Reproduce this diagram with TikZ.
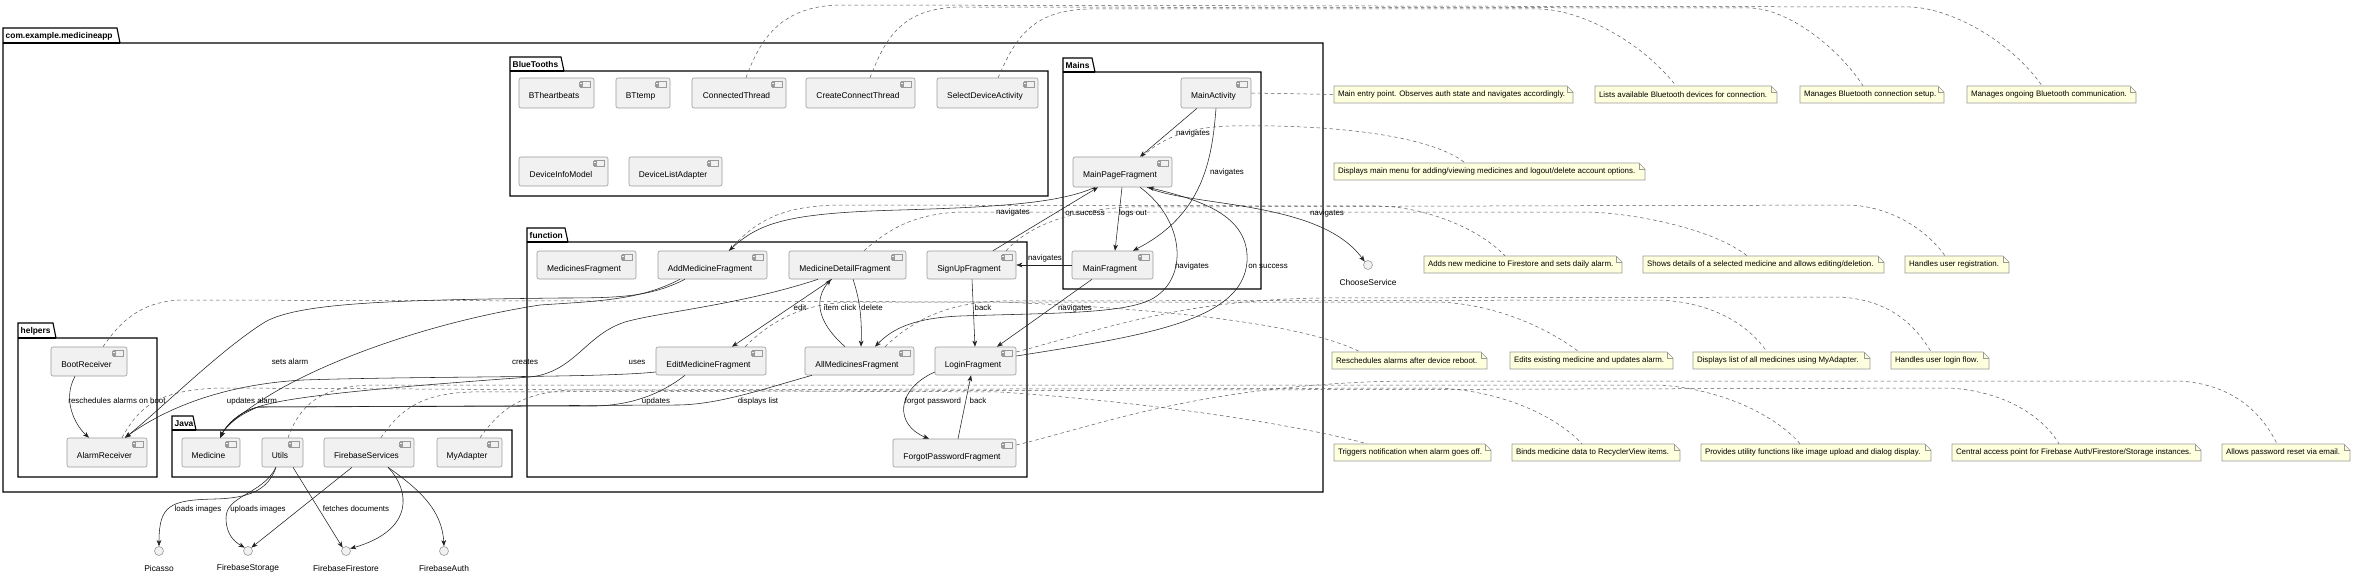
\documentclass[tikz,border=0pt]{standalone}
\usepackage{fontspec}
\setmainfont{Liberation Sans}
\usetikzlibrary{arrows.meta}
\definecolor{compfill}{HTML}{F1F1F1}
\definecolor{compdraw}{HTML}{9A9A9A}
\definecolor{notefill}{HTML}{FEFFDD}
\definecolor{linec}{HTML}{222222}
\tikzset{
 compbox/.style={draw=compdraw, fill=compfill, line width=0.6pt, rounded corners=2pt, inner sep=0pt, font=\fontsize{8.4}{10}\selectfont, text height=12pt, text depth=0pt},
 compicon/.style={draw=compdraw, fill=compfill, line width=0.45pt},
 notebox/.style={inner sep=0pt, font=\fontsize{7.9}{9}\selectfont},
 noteshape/.style={draw=compdraw, fill=notefill, line width=0.6pt},
 pkg/.style={draw=black, line width=1.1pt, line join=miter},
 pkgtitle/.style={inner sep=0pt, font=\bfseries\fontsize{8.4}{10}\selectfont},
 iface/.style={circle, draw=compdraw, fill=compfill, line width=0.6pt, minimum size=9pt, inner sep=0pt},
 ifacelbl/.style={inner sep=0pt, font=\fontsize{8.4}{10}\selectfont},
 lbl/.style={inner sep=0pt, font=\fontsize{7.9}{9}\selectfont},
 arr/.style={draw=linec, line width=0.55pt, -{Stealth[length=6pt,width=4.6pt,inset=1.6pt]}},
 dsh/.style={draw=linec!75, line width=0.5pt, dash pattern=on 3.5pt off 3pt},
}
\newcommand\mkcomp[6]{%
 \pgfmathsetmacro\pcw{#4-#2}\pgfmathsetmacro\pch{#5-#3}%
 \node[compbox, minimum width=\pcw pt, minimum height=\pch pt] (#1) at ({(#2+#4)/2},{(#3+#5)/2}) {#6\hspace*{5pt}};
 \draw[compicon] ([xshift=-14pt,yshift=-4pt]#1.north east) rectangle ++(10pt,-6pt);
 \draw[compicon] ([xshift=-15.5pt,yshift=-5pt]#1.north east) rectangle ++(3pt,-1.4pt);
 \draw[compicon] ([xshift=-15.5pt,yshift=-7.6pt]#1.north east) rectangle ++(3pt,-1.4pt);
}
\newcommand\mknote[6]{%
 \pgfmathsetmacro\pnw{#4-#2}\pgfmathsetmacro\pnh{#5-#3}\pgfmathsetmacro\pnfx{#4-6}\pgfmathsetmacro\pnfy{#3+6}\pgfmathsetmacro\pntw{#4-#2-8}%
 \filldraw[noteshape] (#2,#3) -- (\pnfx,#3) -- (#4,\pnfy) -- (#4,#5) -- (#2,#5) -- cycle;
 \draw[noteshape, fill=none] (\pnfx,#3) -- (\pnfx,\pnfy) -- (#4,\pnfy);
 \node[notebox, minimum width=\pnw pt, minimum height=\pnh pt] (#1) at ({(#2+#4)/2},{(#3+#5)/2}) {\makebox[\pntw pt][l]{#6}};
}
\newcommand\mkpkg[8]{%
 \draw[pkg] (#2,#4) -- (#2,#3) -- ({#7-3},#3) -- (#7,#4) -- (#5,#4) -- (#5,#6) -- (#2,#6) -- cycle;
 \draw[pkg] (#2,#4) -- (#7,#4);
 \node[pkgtitle, anchor=west] (#1) at ({#2+2.5},{(#3+#4)/2+0.5}) {#8};
}
\newcommand\mkiface[4]{%
 \node[iface] (#1) at (#2,#3) {};
 \node[ifacelbl] (#1-lbl) at (#2,{#3+17}) {#4};
}
\begin{document}
\begin{tikzpicture}[x=1pt,y=-1pt]
\fill[white] (0,0) rectangle (2353,575);
\useasboundingbox (0,0) rectangle (2353,575);
% packages
\mkpkg{pOuter}{3}{28}{43}{1323}{492}{120}{com.example.medicineapp}
\mkpkg{pBT}{510}{57}{71}{1048}{196}{564}{BlueTooths}
\mkpkg{pMains}{1063}{58}{72}{1261}{289}{1095}{Mains}
\mkpkg{pFunc}{527}{228}{242}{1027}{477}{568}{function}
\mkpkg{pHelpers}{18}{323}{338}{157}{477}{56}{helpers}
\mkpkg{pJava}{172}{416}{430}{512}{477}{196}{Java}
% components
\mkcomp{BTheartbeats}{519}{78}{594}{108}{BTheartbeats}
\mkcomp{BTtemp}{616}{78}{670}{108}{BTtemp}
\mkcomp{ConnectedThread}{692}{78}{786}{108}{ConnectedThread}
\mkcomp{CreateConnectThread}{806}{78}{915}{108}{CreateConnectThread}
\mkcomp{SelectDeviceActivity}{937}{78}{1038}{108}{SelectDeviceActivity}
\mkcomp{DeviceInfoModel}{519}{157}{608}{186}{DeviceInfoModel}
\mkcomp{DeviceListAdapter}{629}{157}{722}{186}{DeviceListAdapter}
\mkcomp{MainActivity}{1181}{78}{1251}{108}{MainActivity}
\mkcomp{MainPageFragment}{1073}{157}{1172}{187}{MainPageFragment}
\mkcomp{MainFragment}{1072}{251}{1153}{279}{MainFragment}
\mkcomp{MedicinesFragment}{537}{251}{636}{279}{MedicinesFragment}
\mkcomp{AddMedicineFragment}{658}{251}{767}{279}{AddMedicineFragment}
\mkcomp{MedicineDetailFragment}{789}{251}{906}{279}{MedicineDetailFragment}
\mkcomp{SignUpFragment}{927}{251}{1016}{279}{SignUpFragment}
\mkcomp{EditMedicineFragment}{656}{347}{766}{375}{EditMedicineFragment}
\mkcomp{AllMedicinesFragment}{805}{347}{914}{375}{AllMedicinesFragment}
\mkcomp{LoginFragment}{935}{347}{1016}{375}{LoginFragment}
\mkcomp{ForgotPasswordFragment}{893}{439}{1016}{467}{ForgotPasswordFragment}
\mkcomp{BootReceiver}{51}{347}{127}{376}{BootReceiver}
\mkcomp{AlarmReceiver}{67}{438}{147}{467}{AlarmReceiver}
\mkcomp{Medicine}{182}{438}{240}{467}{Medicine}
\mkcomp{Utils}{262}{438}{303}{467}{Utils}
\mkcomp{FirebaseServices}{324}{438}{414}{467}{FirebaseServices}
\mkcomp{MyAdapter}{437}{438}{502}{467}{MyAdapter}
% interfaces
\mkiface{ChooseService}{1368}{265}{ChooseService}
\mkiface{Picasso}{159}{551}{Picasso}
\mkiface{FirebaseStorage}{248}{551}{FirebaseStorage}
\mkiface{FirebaseFirestore}{346}{551}{FirebaseFirestore}
\mkiface{FirebaseAuth}{444}{551}{FirebaseAuth}
% notes
\mknote{N1}{1334}{86}{1573}{103}{Main entry point. Observes auth state and navigates accordingly.}
\mknote{N2}{1595}{86}{1777}{103}{Lists available Bluetooth devices for connection.}
\mknote{N3}{1800}{86}{1944}{103}{Manages Bluetooth connection setup.}
\mknote{N4}{1967}{86}{2136}{103}{Manages ongoing Bluetooth communication.}
\mknote{N5}{1334}{163}{1645}{180}{Displays main menu for adding/viewing medicines and logout/delete account options.}
\mknote{N6}{1424}{256}{1622}{273}{Adds new medicine to Firestore and sets daily alarm.}
\mknote{N7}{1643}{256}{1884}{273}{Shows details of a selected medicine and allows editing/deletion.}
\mknote{N8}{1905}{256}{2009}{273}{Handles user registration.}
\mknote{N9}{1332}{352}{1487}{369}{Reschedules alarms after device reboot.}
\mknote{N10}{1510}{352}{1673}{369}{Edits existing medicine and updates alarm.}
\mknote{N11}{1693}{352}{1870}{369}{Displays list of all medicines using MyAdapter.}
\mknote{N12}{1891}{352}{1989}{369}{Handles user login flow.}
\mknote{N13}{1334}{444}{1491}{461}{Triggers notification when alarm goes off.}
\mknote{N14}{1512}{444}{1680}{461}{Binds medicine data to RecyclerView items.}
\mknote{N15}{1701}{444}{1931}{461}{Provides utility functions like image upload and dialog display.}
\mknote{N16}{1952}{444}{2201}{461}{Central access point for Firebase Auth/Firestore/Storage instances.}
\mknote{N17}{2222}{444}{2350}{461}{Allows password reset via email.}
% dashed note links
\draw[dsh] (MainActivity.east) -- (N1.west);
\draw[dsh] ([xshift=10.5pt]SelectDeviceActivity.north) .. controls (1015,40) and (1030,10) .. (1090,9) -- (1540,9) .. controls (1580,10) and (1640,40) .. ([xshift=-10pt]N2.north);
\draw[dsh] ([xshift=9.5pt]CreateConnectThread.north) .. controls (885,40) and (900,8) .. (960,7) -- (1750,8) .. controls (1790,9) and (1840,50) .. ([xshift=-9pt]N3.north);
\draw[dsh] ([xshift=7pt]ConnectedThread.north) .. controls (760,40) and (780,6) .. (840,5) -- (1910,7) .. controls (1950,8) and (2010,40) .. ([xshift=-9.5pt]N4.north);
\draw[dsh] ([xshift=19.5pt]MainPageFragment.north) .. controls (1165,135) and (1195,127) .. (1230,126) .. controls (1330,124) and (1430,135) .. ([xshift=-24.5pt]N5.north);
\draw[dsh] ([xshift=16.5pt]AddMedicineFragment.north) .. controls (760,215) and (790,206) .. (840,205) -- (1380,206) .. controls (1420,207) and (1475,225) .. ([xshift=-18pt]N6.north);
\draw[dsh] ([xshift=16.5pt]MedicineDetailFragment.north) .. controls (890,228) and (915,214) .. (960,212) -- (1590,212) .. controls (1640,214) and (1715,230) .. ([xshift=-16.5pt]N7.north);
\draw[dsh] ([xshift=34.5pt]SignUpFragment.north) .. controls (1030,225) and (1070,210) .. (1130,207) -- (1850,205) .. controls (1890,207) and (1925,228) .. ([xshift=-12pt]N8.north);
\draw[dsh] ([xshift=14pt]BootReceiver.north) .. controls (120,322) and (140,302) .. (180,300) -- (1000,302) .. controls (1150,308) and (1300,322) .. ([xshift=-49.5pt]N9.north);
\draw[dsh] ([xshift=34pt]EditMedicineFragment.north) .. controls (770,322) and (800,304) .. (850,302) -- (1440,302) .. controls (1500,305) and (1550,330) .. ([xshift=-12.5pt]N10.north);
\draw[dsh] ([xshift=25.5pt]AllMedicinesFragment.north) .. controls (915,318) and (950,303) .. (1000,301) -- (1660,300) .. controls (1720,303) and (1752,330) .. ([xshift=-14.5pt]N11.north);
\draw[dsh] ([yshift=9pt]LoginFragment.east) .. controls (1100,330) and (1180,300) .. (1320,298) -- (1840,297) .. controls (1890,300) and (1915,325) .. ([xshift=-9pt]N12.north);
\draw[dsh] ([xshift=15pt]AlarmReceiver.north) .. controls (140,405) and (160,390) .. (220,388) -- (1000,392) .. controls (1150,402) and (1300,425) .. ([xshift=-45.5pt]N13.north);
\draw[dsh] ([xshift=10.5pt]MyAdapter.north) .. controls (500,410) and (520,393) .. (570,390) -- (1440,388) .. controls (1510,392) and (1560,420) .. ([xshift=-14pt]N14.north);
\draw[dsh] ([xshift=5.5pt]Utils.north) .. controls (300,405) and (320,387) .. (370,385) -- (1660,385) .. controls (1730,390) and (1780,420) .. ([xshift=-16pt]N15.north);
\draw[dsh] ([xshift=12pt]FirebaseServices.north) .. controls (400,410) and (420,394) .. (470,392) -- (1950,388) .. controls (2010,392) and (2045,420) .. ([xshift=-17.5pt]N16.north);
\draw[dsh] ([yshift=8pt]ForgotPasswordFragment.east) .. controls (1100,425) and (1200,385) .. (1400,381) -- (2180,381) .. controls (2240,385) and (2265,420) .. ([xshift=-9pt]N17.north);
% solid connectors
\draw[arr] ([xshift=-19pt]MainActivity.south) -- ([xshift=17.5pt]MainPageFragment.north);
\draw[arr] (MainActivity.south) .. controls (1212,160) and (1203,215) .. ([xshift=20.5pt]MainFragment.north);
\draw[arr] ([xshift=-0.5pt]MainPageFragment.south) -- ([xshift=2.5pt]MainFragment.north);
\draw[arr] ([xshift=24.5pt]MainPageFragment.south) .. controls (1190,207) and (1320,200) .. (ChooseService.135);
\draw[arr] ([xshift=-27.5pt]MainPageFragment.south) .. controls (1060,203) and (1000,207) .. (900,210) .. controls (790,213) and (760,222) .. ([xshift=16.5pt]AddMedicineFragment.north);
\draw[arr] ([xshift=21.5pt]SignUpFragment.north) -- ([xshift=-24.5pt]MainPageFragment.south);
\draw[arr] (MainFragment.west) -- (SignUpFragment.east);
\draw[arr] ([xshift=-20.5pt]MainFragment.south) -- ([xshift=21.5pt]LoginFragment.north);
\draw[arr] ([xshift=17.5pt]MainPageFragment.south) .. controls (1185,220) and (1190,280) .. (1150,300) .. controls (1120,314) and (1050,313) .. (960,316) .. controls (915,318) and (893,328) .. ([xshift=15.5pt]AllMedicinesFragment.north);
\draw[arr] ([yshift=5pt]LoginFragment.east) .. controls (1150,335) and (1242,320) .. (1247,262) .. controls (1250,215) and (1200,200) .. ([xshift=25.5pt]MainPageFragment.south);
\draw[arr] ([xshift=0.5pt]SignUpFragment.south) -- ([xshift=-0.5pt]LoginFragment.north);
\draw[arr] ([yshift=-11pt]LoginFragment.west) .. controls (895,390) and (895,425) .. ([xshift=-25.5pt]ForgotPasswordFragment.north);
\draw[arr] ([xshift=3.5pt]ForgotPasswordFragment.north) -- ([xshift=-4.5pt]LoginFragment.south);
\draw[arr] ([xshift=-15.5pt]MedicineDetailFragment.south) -- ([xshift=21pt]EditMedicineFragment.north);
\draw[arr] ([xshift=-14.5pt]AllMedicinesFragment.north) .. controls (815,320) and (815,298) .. ([xshift=-16.5pt]MedicineDetailFragment.south);
\draw[arr] ([xshift=5.5pt]MedicineDetailFragment.south) .. controls (860,300) and (862,320) .. ([xshift=1.5pt]AllMedicinesFragment.north);
\draw[arr] ([xshift=-27.5pt]AddMedicineFragment.south) .. controls (650,297) and (620,298) .. (560,298) .. controls (400,300) and (300,302) .. (265,322) .. controls (220,350) and (160,410) .. ([xshift=18pt]AlarmReceiver.north);
\draw[arr] ([xshift=-32.5pt]AddMedicineFragment.south) .. controls (640,300) and (600,301) .. (540,305) .. controls (430,322) and (320,362) .. (262,400) .. controls (240,414) and (226,426) .. ([xshift=9pt]Medicine.north);
\draw[arr] ([xshift=-29.5pt]MedicineDetailFragment.south) .. controls (740,305) and (660,312) .. (625,322) .. controls (585,335) and (575,372) .. (530,377) .. controls (420,385) and (290,395) .. (258,407) .. controls (238,415) and (226,426) .. ([xshift=9pt]Medicine.north);
\draw[arr] ([yshift=-11pt]EditMedicineFragment.west) .. controls (600,378) and (420,376) .. (303,380) .. controls (230,384) and (170,405) .. ([xshift=18pt]AlarmReceiver.north);
\draw[arr] ([xshift=-26pt]EditMedicineFragment.south) .. controls (660,395) and (630,405) .. (596,406) -- (258,407) .. controls (238,412) and (226,426) .. ([xshift=9pt]Medicine.north);
\draw[arr] ([xshift=-47.5pt]AllMedicinesFragment.south) .. controls (760,390) and (720,404) .. (679,405) -- (258,407) .. controls (238,412) and (226,426) .. ([xshift=9pt]Medicine.north);
\draw[arr] ([xshift=-14pt]BootReceiver.south) .. controls (62,400) and (75,425) .. ([xshift=-18pt]AlarmReceiver.north);
\draw[arr] ([xshift=-6.5pt]Utils.south) .. controls (268,490) and (250,498) .. (215,499) .. controls (170,500) and (159,505) .. (Picasso.north);
\draw[arr] ([xshift=-6.5pt]Utils.south) .. controls (262,495) and (226,495) .. (226,518) .. controls (226,535) and (235,542) .. (FirebaseStorage.135);
\draw[arr] ([xshift=-17pt]FirebaseServices.south) -- (FirebaseStorage.45);
\draw[arr] ([xshift=10.5pt]Utils.south) -- (FirebaseFirestore.135);
\draw[arr] ([xshift=19pt]FirebaseServices.south) .. controls (410,490) and (415,530) .. (FirebaseFirestore.30);
\draw[arr] ([xshift=19pt]FirebaseServices.south) .. controls (420,490) and (442,510) .. (FirebaseAuth.north);
% labels
\node[lbl] (l1) at (1193,133) {navigates};
\node[lbl] (l2) at (1227,172) {navigates};
\node[lbl] (l3) at (1133,213) {logs out};
\node[lbl] (l4) at (1327,213) {navigates};
\node[lbl] (l5) at (1013,212) {navigates};
\node[lbl] (l6) at (1085,213) {on success};
\node[lbl] (l7) at (1045,258) {navigates};
\node[lbl] (l8) at (1075,308) {navigates};
\node[lbl] (l9) at (1192,266) {navigates};
\node[lbl] (l10) at (1268,266) {on success};
\node[lbl] (l11) at (983,308) {back};
\node[lbl] (l12) at (933,401) {forgot password};
\node[lbl] (l13) at (978,401) {back};
\node[lbl] (l14) at (800,308) {edit};
\node[lbl] (l15) at (840,308) {item click};
\node[lbl] (l16) at (872,308) {delete};
\node[lbl] (l17) at (290,362) {sets alarm};
\node[lbl] (l18) at (525,362) {creates};
\node[lbl] (l19) at (637,362) {uses};
\node[lbl] (l20) at (252,401) {updates alarm};
\node[lbl] (l21) at (656,401) {updates};
\node[lbl] (l22) at (758,401) {displays list};
\node[lbl] (l23) at (117,401) {reschedules alarms on boot};
\node[lbl] (l24) at (198,509) {loads images};
\node[lbl] (l25) at (258,509) {uploads images};
\node[lbl] (l26) at (356,509) {fetches documents};
\end{tikzpicture}
\end{document}
